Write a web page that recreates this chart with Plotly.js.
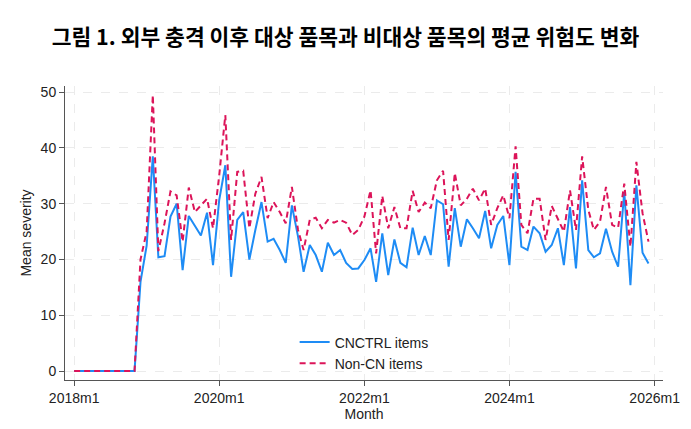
<!DOCTYPE html>
<html>
<head>
<meta charset="utf-8">
<script src="https://cdn.plot.ly/plotly-3.0.1.min.js"></script>
<style>
  html, body { margin: 0; padding: 0; background: #ffffff; }
  #chart { width: 691px; height: 429px; }
</style>
</head>
<body>
<div id="chart"></div>
<script>
// ------------------------------------------------------------------------------
// DATA

const start_year = 2018;
const n_months   = 96;   // 2018m1 .. 2025m12

const cnctrl_items = [
    0, 0, 0, 0, 0, 0, 0, 0, 0, 0, 0,
    16.0, 22.5, 38.5, 20.4, 20.6, 27.7, 30.0, 18.1, 27.8, 25.9, 24.3, 28.4, 19.0,
    30.6, 36.9, 16.9, 27.1, 28.5, 20.0, 25.3, 30.3, 23.2, 23.7, 21.7, 19.4,
    29.7, 24.1, 17.8, 22.6, 20.8, 17.8, 23.0, 20.8, 21.7, 19.4, 18.3, 18.4,
    19.9, 22.0, 16.0, 24.7, 17.2, 23.6, 19.4, 18.6, 25.7, 20.8, 24.2, 20.8,
    30.6, 29.9, 18.7, 29.2, 22.3, 27.2, 25.6, 23.8, 28.7, 22.0, 26.2, 27.8,
    19.0, 35.7, 22.3, 21.7, 25.9, 24.7, 21.4, 22.6, 25.6, 19.0, 29.4, 18.4,
    34.2, 21.7, 20.4, 21.1, 25.5, 21.4, 18.7, 32.1, 15.4, 33.3, 21.2, 19.3
];

const noncn_items = [
    0, 0, 0, 0, 0, 0, 0, 0, 0, 0, 0,
    20.0, 25.0, 49.5, 21.5, 26.5, 32.2, 31.5, 23.2, 32.9, 28.5, 29.7, 30.9, 25.6,
    35.0, 45.9, 23.5, 35.7, 35.9, 25.6, 31.8, 34.8, 27.4, 30.3, 28.5, 26.5,
    33.0, 25.3, 21.7, 27.1, 27.5, 25.6, 27.1, 26.6, 27.1, 26.6, 24.4, 25.3,
    27.7, 32.4, 21.1, 31.4, 25.6, 29.4, 25.6, 25.6, 32.3, 28.5, 30.2, 29.2,
    34.2, 35.9, 23.5, 35.5, 29.7, 30.9, 32.7, 30.6, 32.7, 26.2, 29.2, 31.5,
    27.4, 40.3, 26.2, 24.7, 30.9, 30.9, 23.5, 29.6, 27.4, 25.0, 32.4, 25.3,
    38.5, 28.9, 25.3, 26.8, 33.0, 26.2, 25.7, 33.6, 22.3, 37.5, 28.3, 23.2
];

const tick_dates  = ['2018-01-01', '2020-01-01', '2022-01-01', '2024-01-01', '2026-01-01'];
const tick_labels = ['2018m1', '2020m1', '2022m1', '2024m1', '2026m1'];

// month axis, first day of each month
const months = [];
for (let i = 0; i < n_months; i++) {
    const y = start_year + Math.floor(i / 12);
    const m = (i % 12) + 1;
    months.push(y + '-' + String(m).padStart(2, '0') + '-01');
}

// ------------------------------------------------------------------------------
// PLOT

const font_family = '"Liberation Sans", Arial, sans-serif';
const grid_color  = '#ebebeb';
const axis_color  = '#555555';

const traces = [
    {
        name: 'CNCTRL items',
        x: months,
        y: cnctrl_items,
        type: 'scatter',
        mode: 'lines',
        line: { color: '#1e8cf5', width: 2 }
    },
    {
        name: 'Non-CN items',
        x: months,
        y: noncn_items,
        type: 'scatter',
        mode: 'lines',
        line: { color: '#dc1459', width: 2, dash: '6px,4px' }
    }
];

const layout = {
    width: 691,
    height: 429,
    paper_bgcolor: '#ffffff',
    plot_bgcolor: '#ffffff',
    font: { family: font_family, size: 14, color: '#222222' },
    margin: { l: 65, r: 28, t: 86, b: 49 },
    title: {
        text: '<b>그림 1. 외부 충격 이후 대상 품목과 비대상 품목의 평균 위험도 변화</b>',
        x: 0.5,
        xanchor: 'center',
        xref: 'container',
        y: 0.93,
        yref: 'container',
        font: { family: '"Noto Sans CJK KR", "Noto Sans", sans-serif', size: 21.5, color: '#000000' }
    },
    xaxis: {
        type: 'date',
        range: ['2017-11-16', '2026-02-12'],
        tickvals: tick_dates,
        ticktext: tick_labels,
        ticks: 'outside',
        ticklen: 5,
        tickcolor: axis_color,
        showline: true,
        linecolor: axis_color,
        linewidth: 1,
        showgrid: true,
        gridcolor: grid_color,
        griddash: 'dash',
        zeroline: false,
        title: { text: 'Month', standoff: 4, font: { size: 14 } }
    },
    yaxis: {
        range: [-1.6, 51.1],
        tickvals: [0, 10, 20, 30, 40, 50],
        ticks: 'outside',
        ticklen: 5,
        tickcolor: axis_color,
        showline: true,
        linecolor: axis_color,
        linewidth: 1,
        showgrid: true,
        gridcolor: grid_color,
        griddash: 'dash',
        zeroline: false,
        title: { text: 'Mean severity', standoff: 5, font: { size: 14 } }
    },
    legend: {
        x: 0.384,
        y: 0.182,
        xanchor: 'left',
        yanchor: 'top',
        bgcolor: 'rgba(255,255,255,0)',
        borderwidth: 0,
        tracegroupgap: 0,
        font: { size: 14 }
    },
    showlegend: true
};

Plotly.newPlot('chart', traces, layout, { displayModeBar: false, responsive: false });
</script>
</body>
</html>
